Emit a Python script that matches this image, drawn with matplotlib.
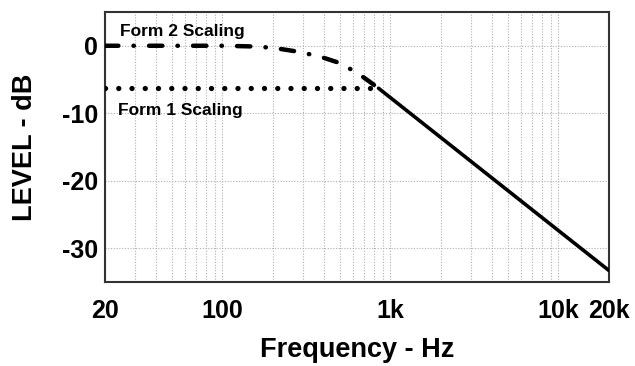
import matplotlib
matplotlib.use("Agg")
import matplotlib.pyplot as plt
from matplotlib.ticker import FixedLocator, NullFormatter

plt.rcParams['font.family'] = ['Liberation Sans', 'DejaVu Sans']

# Form 2 scaling (dash-dot) response
form2_freq = [20, 100, 150, 200, 285, 380, 505, 650, 750, 850]
form2_db = [0, 0, -0.1, -0.3, -0.9, -1.6, -2.6, -4.2, -5.3, -6.3]

# Form 1 scaling (dotted) flat level
form1_freq = [20, 820]
form1_db = [-6.2, -6.2]

# Common roll-off (solid)
roll_freq = [850, 20000]
roll_db = [-6.3, -33.3]

xticks = [20, 100, 1000, 10000, 20000]
xticklabels = ['20', '100', '1k', '10k', '20k']
yticks = [0, -10, -20, -30]
yticklabels = ['0', '-10', '-20', '-30']
minor_x = [30, 40, 50, 60, 70, 80, 90, 200, 300, 400, 500, 600, 700, 800, 900,
           2000, 3000, 4000, 5000, 6000, 7000, 8000, 9000]

fig = plt.figure(figsize=(6.35, 3.66), dpi=100)
ax = fig.add_axes([0.1654, 0.2295, 0.959 - 0.1654, 0.9672 - 0.2295])

ax.set_xscale('log')
ax.set_xlim(20, 20000)
ax.set_ylim(-35, 5)

grid_kw = dict(color='#b0b0b0', linewidth=0.8, linestyle=(0, (1, 1.5)))
ax.xaxis.set_major_locator(FixedLocator(xticks))
ax.xaxis.set_minor_locator(FixedLocator(minor_x))
ax.xaxis.set_minor_formatter(NullFormatter())
ax.set_xticklabels(xticklabels)
ax.set_yticks(yticks)
ax.set_yticklabels(yticklabels)
ax.grid(True, which='major', **grid_kw)
ax.grid(True, which='minor', axis='x', **grid_kw)
ax.set_axisbelow(True)

ax.tick_params(axis='both', which='both', length=0)
ax.tick_params(axis='x', which='major', pad=12, labelsize=18)
ax.tick_params(axis='y', which='major', pad=5, labelsize=18)
for lab in ax.get_xticklabels() + ax.get_yticklabels():
    lab.set_fontweight('bold')

ax.plot(form2_freq, form2_db, color='black', linewidth=3.2,
        linestyle=(0, (3.0, 3.4, 0.1, 3.4)), dash_capstyle='round',
        solid_capstyle='round', zorder=3)
ax.plot(form1_freq, form1_db, color='black', linewidth=3.8,
        linestyle=(0, (0.01, 2.5)), dash_capstyle='round', zorder=3)
ax.plot(roll_freq, roll_db, color='black', linewidth=2.6,
        solid_capstyle='round', zorder=3)

ax.text(24.5, 1.5, 'Form 2 Scaling', fontsize=12.5, fontweight='bold',
        ha='left', va='baseline')
ax.text(23.9, -10.3, 'Form 1 Scaling', fontsize=12.5, fontweight='bold',
        ha='left', va='baseline')

ax.set_xlabel('Frequency - Hz', fontsize=19.5, fontweight='bold', labelpad=10)
ax.set_ylabel('LEVEL - dB', fontsize=19.5, fontweight='bold', labelpad=17)

for s in ax.spines.values():
    s.set_color('#333333')
    s.set_linewidth(1.5)

fig.savefig('out.png', dpi=100)
